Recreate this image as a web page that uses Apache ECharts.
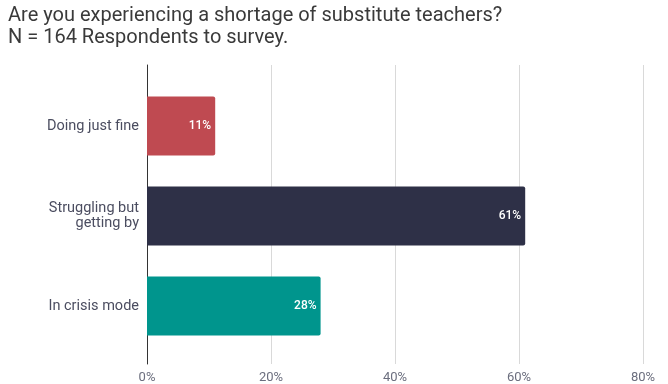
<!DOCTYPE html>
<html><head><meta charset="utf-8">
<script src="https://cdn.jsdelivr.net/npm/echarts@6/dist/echarts.min.js"></script>
<style>html,body{margin:0;padding:0;background:#fff}#c{width:668px;height:384px}</style>
</head><body><div id="c"></div>
<script>
var categories = ['Doing just fine', 'Struggling but\ngetting by', 'In crisis mode'];
var values = [11, 61, 28];
var barColors = ['#bf4a51', '#2e3047', '#00958d'];
var tickLabels = ['0%', '20%', '40%', '60%', '80%'];

var chart = echarts.init(document.getElementById('c'), null, {renderer: 'canvas'});
var font = 'Roboto, "Noto Sans", sans-serif';
chart.setOption({
  animation: false,
  title: {
    text: 'Are you experiencing a shortage of substitute teachers?\nN = 164 Respondents to survey.',
    left: 3, top: 0,
    textStyle: {fontFamily: font, fontSize: 20, fontWeight: 'normal', color: '#3a3a3a', lineHeight: 22}
  },
  grid: [
    {left: 147, right: 25, top: 65, bottom: 19},
    {left: 147, right: 25, top: 81, bottom: 33}
  ],
  xAxis: [
    {gridIndex: 0, type: 'value', min: 0, max: 80, interval: 20,
     axisLine: {show: false}, axisTick: {show: false},
     splitLine: {show: true, lineStyle: {color: '#d9d9d9', width: 1}},
     axisLabel: {fontFamily: font, fontSize: 13, color: '#6b6e7e', margin: 7,
       formatter: function (v) { return tickLabels[v / 20]; }}},
    {gridIndex: 1, type: 'value', min: 0, max: 80, interval: 20, show: false}
  ],
  yAxis: [
    {gridIndex: 0, type: 'category', data: [''], axisTick: {show: false}, axisLabel: {show: false},
     axisLine: {show: true, lineStyle: {color: '#333', width: 1}}},
    {gridIndex: 1, type: 'category', data: categories, inverse: true,
     axisLine: {show: false}, axisTick: {show: false},
     axisLabel: {fontFamily: font, fontSize: 14.5, color: '#4b4d60', margin: 8, lineHeight: 15, align: 'right'}}
  ],
  series: [
    {type: 'bar', xAxisIndex: 0, yAxisIndex: 0, data: [], silent: true},
    {type: 'bar', xAxisIndex: 1, yAxisIndex: 1, barWidth: 59,
     data: values.map(function (v, i) { return {value: v, itemStyle: {color: barColors[i]}}; }),
     itemStyle: {borderRadius: [0, 2, 2, 0]},
     label: {show: true, position: 'insideRight', distance: 4, color: '#fff', fontFamily: font, fontSize: 12, fontWeight: 500,
       formatter: function (p) { return p.value + '%'; }}}
  ]
});
</script></body></html>
